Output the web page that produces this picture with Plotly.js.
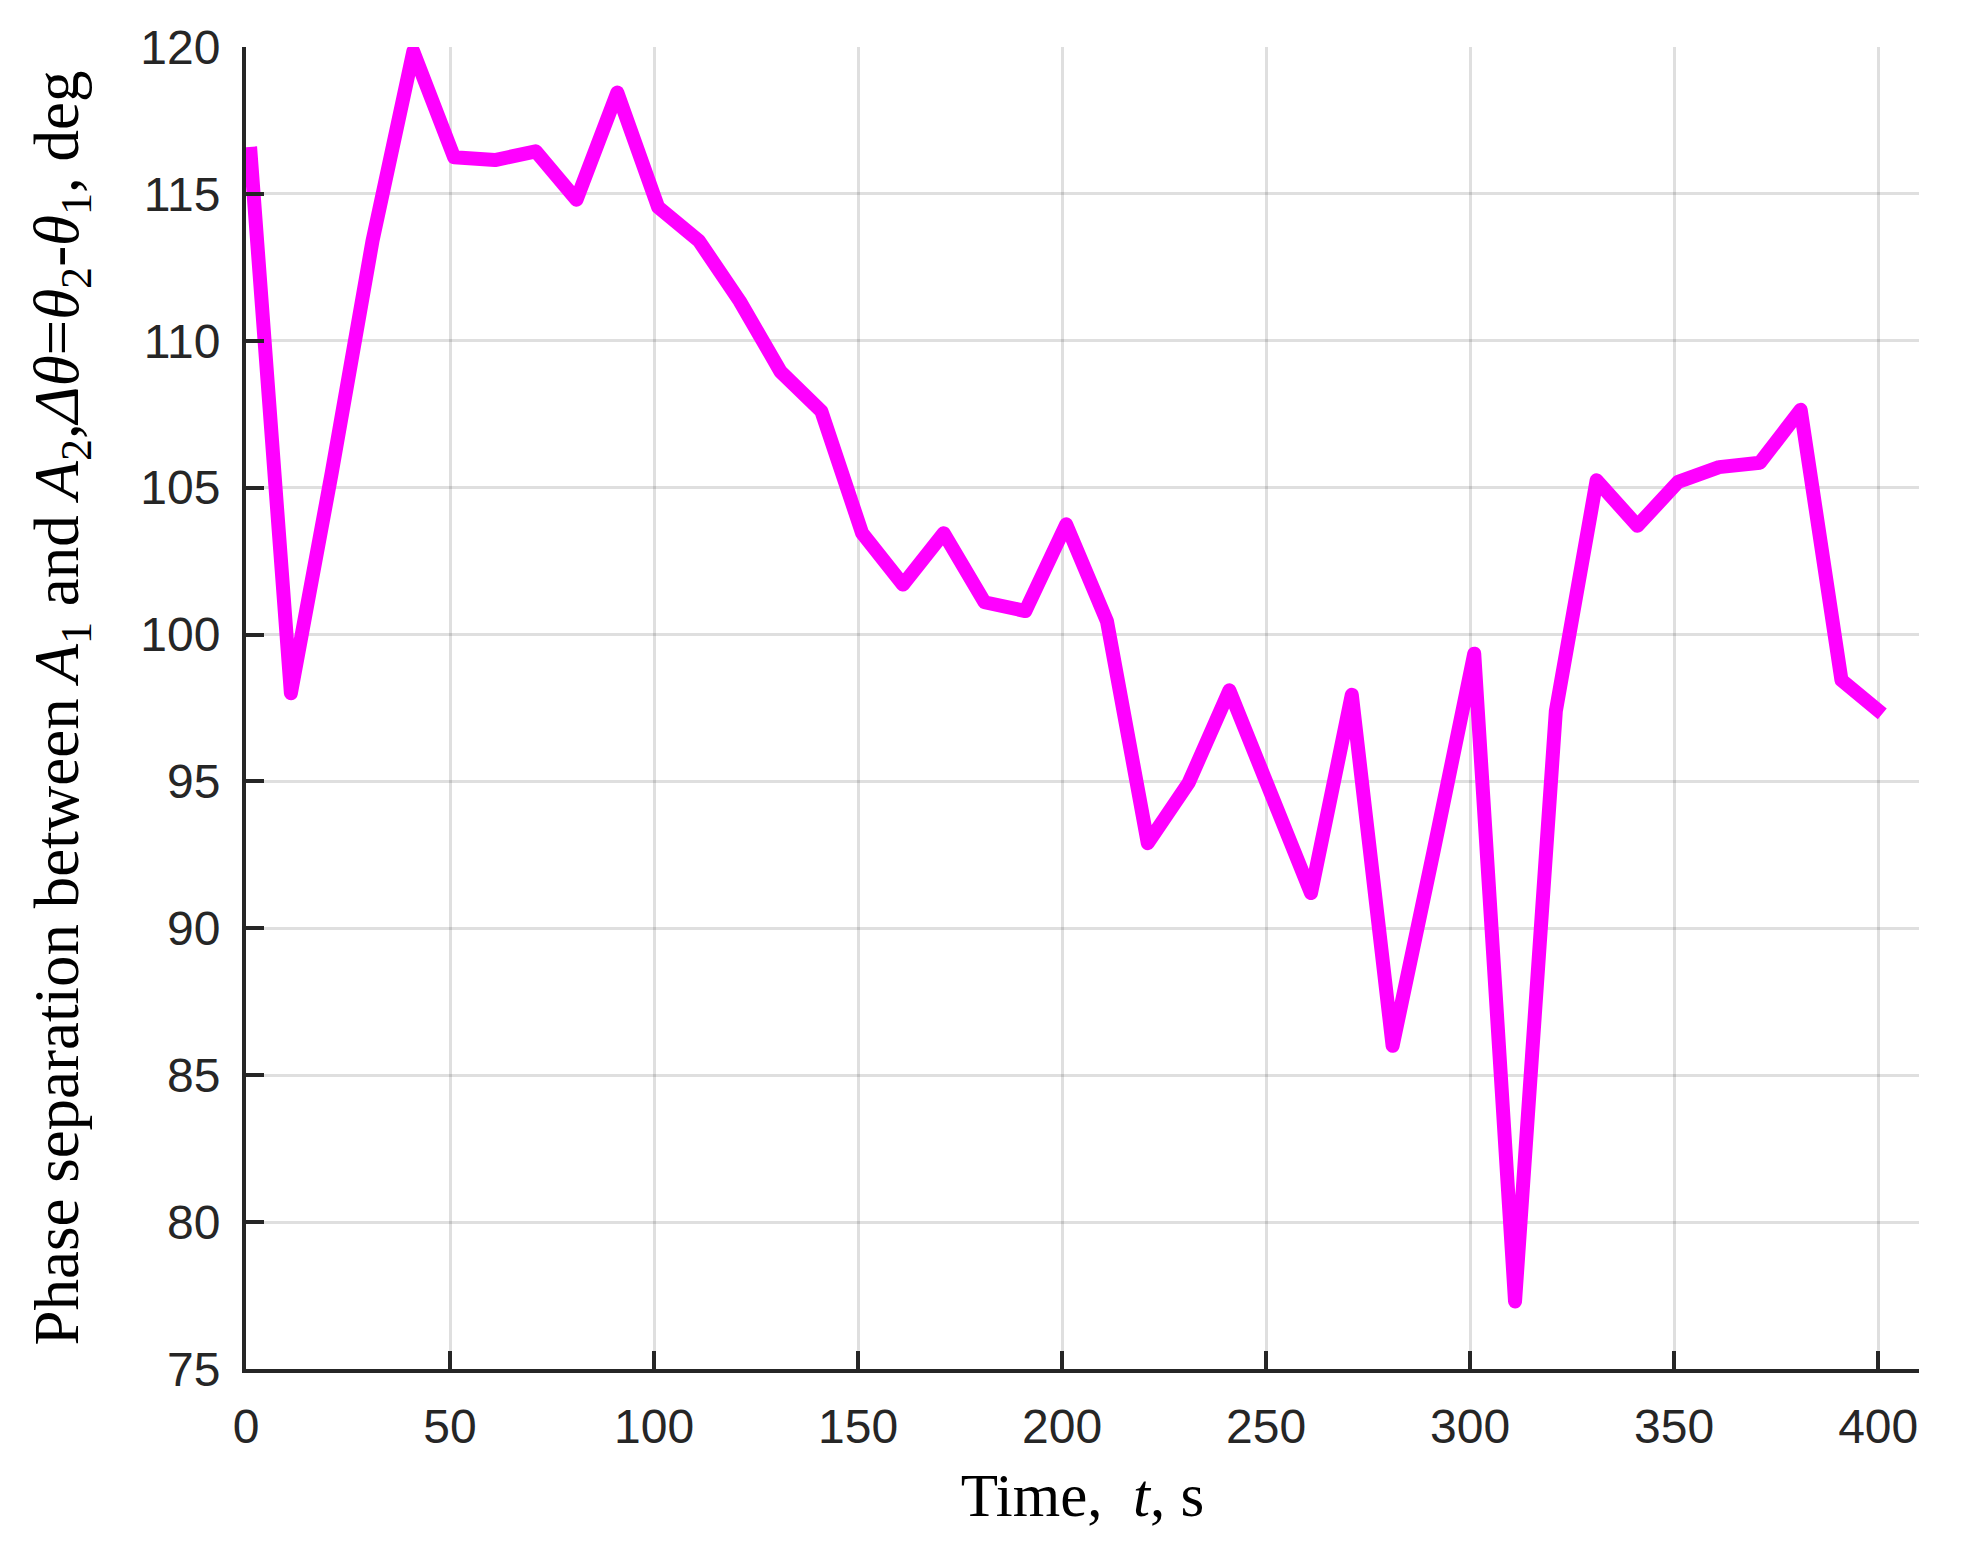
<!DOCTYPE html>
<html>
<head>
<meta charset="utf-8">
<script src="https://cdn.plot.ly/plotly-3.0.1.min.js"></script>
<style>
  html, body { margin: 0; padding: 0; background: #fff; }
  #plotArea { width: 1961px; height: 1543px; }
  path.js-line { stroke-linejoin: round; }
</style>
</head>
<body>
<div id="plotArea"></div>
<script>
// time stamps, s
var timeS = [1, 11, 21, 31, 41, 51, 61, 71, 81, 91,
  101, 111, 121, 131, 141, 151, 161, 171, 181, 191,
  201, 211, 221, 231, 241, 251, 261, 271, 281, 291,
  301, 311, 321, 331, 341, 351, 361, 371, 381, 391, 401];

// phase separation, deg
var phaseDeg = [116.6, 98.0, 105.5, 113.4, 119.85, 116.25, 116.15, 116.45, 114.8, 118.45,
  114.55, 113.4, 111.35, 108.95, 107.6, 103.45, 101.7, 103.45, 101.1, 100.8,
  103.75, 100.45, 92.9, 94.95, 98.1, 94.7, 91.2, 97.95, 86.0, 92.6,
  99.35, 77.3, 97.4, 105.25, 103.7, 105.2, 105.7, 105.85, 107.65, 98.45, 97.3];

var xTicks = [0, 50, 100, 150, 200, 250, 300, 350, 400];
var yTicks = [75, 80, 85, 90, 95, 100, 105, 110, 115, 120];

var trace = [{
    x: timeS,
    y: phaseDeg,
    mode: "lines",
    type: "scatter",
    line: { color: "#ff00ff", width: 14 },
    hoverinfo: "x+y"
}];

var layout = {
    width: 1961,
    height: 1543,
    margin: { l: 246, r: 42, t: 47, b: 174 },
    paper_bgcolor: "#ffffff",
    plot_bgcolor: "#ffffff",
    showlegend: false,
    font: { family: "Liberation Sans, Arial, sans-serif", color: "#262626", size: 48 },
    xaxis: {
        range: [0, 410],
        tickvals: xTicks,
        ticktext: xTicks.map(String),
        ticks: "inside",
        ticklen: 18,
        tickwidth: 4,
        tickcolor: "#262626",
        ticklabelstandoff: 12,
        showline: true,
        linecolor: "#262626",
        linewidth: 4,
        showgrid: true,
        gridcolor: "rgba(38,38,38,0.15)",
        gridwidth: 3,
        zeroline: false,
        title: {
            text: "Time,\u00a0 <i>t</i>, s",
            font: { family: "Liberation Serif, Times New Roman, serif", size: 61, color: "#000000" },
            standoff: 23
        }
    },
    yaxis: {
        range: [75, 120],
        tickvals: yTicks,
        ticktext: yTicks.map(String),
        ticks: "inside",
        ticklen: 18,
        tickwidth: 4,
        tickcolor: "#262626",
        ticklabelstandoff: 12,
        showline: true,
        linecolor: "#262626",
        linewidth: 4,
        showgrid: true,
        gridcolor: "rgba(38,38,38,0.15)",
        gridwidth: 3,
        zeroline: false,
        title: {
            text: "Phase separation between <i>A</i><sub>1</sub> and <i>A</i><sub>2</sub>,<i>Δθ</i>=<i>θ</i><sub>2</sub>-<i>θ</i><sub>1</sub>, deg",
            font: { family: "Liberation Serif, Times New Roman, serif", size: 63, color: "#000000" },
            standoff: 42
        }
    }
};

Plotly.newPlot("plotArea", trace, layout, { displayModeBar: false, staticPlot: true });
</script>
</body>
</html>
